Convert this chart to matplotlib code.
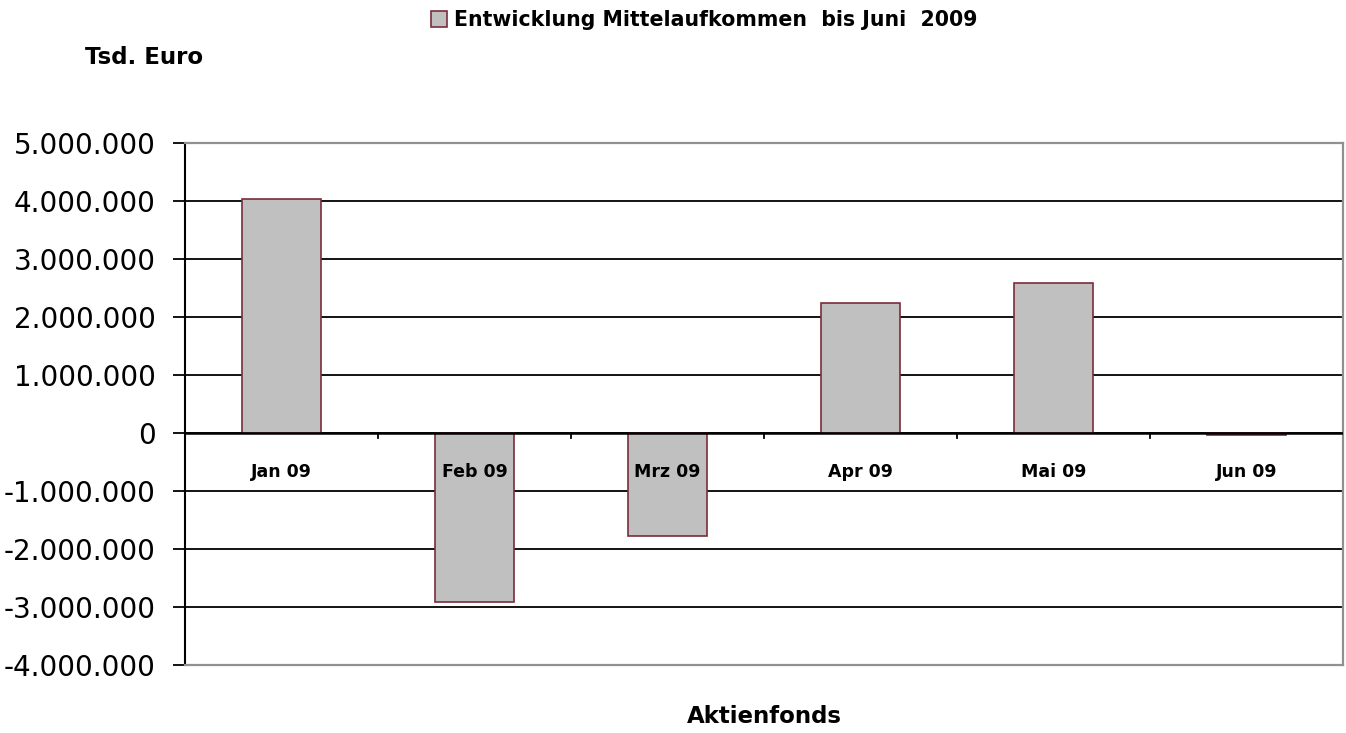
import numpy as np
import matplotlib.pyplot as plt
from matplotlib.patches import Patch
from matplotlib.ticker import FuncFormatter
from matplotlib.transforms import blended_transform_factory

monate = ["Jan 09", "Feb 09", "Mrz 09", "Apr 09", "Mai 09", "Jun 09"]
mittelaufkommen = [4040000, -2910000, -1780000, 2240000, 2590000, -40000]
y_ticks = [-4000000, -3000000, -2000000, -1000000, 0,
           1000000, 2000000, 3000000, 4000000, 5000000]

plt.rcParams['font.family'] = ['DejaVu Sans']

fig = plt.figure(figsize=(13.46, 7.33), dpi=100)
ax = fig.add_axes([0.1374, 0.0928, 0.8604, 0.7121])

x = np.arange(len(monate))
ax.bar(x, mittelaufkommen, width=0.41, color="#C0C0C0",
       edgecolor="#7B2C3B", linewidth=1.2, zorder=3)

ax.set_xlim(-0.5, len(monate) - 0.5)
ax.set_ylim(y_ticks[0], y_ticks[-1])
ax.set_yticks(y_ticks)
ax.yaxis.set_major_formatter(FuncFormatter(lambda v, p: f"{int(v):,}".replace(",", ".")))
ax.tick_params(axis="y", labelsize=20, length=9, width=1.3, direction="out", pad=12)

# gridlines
for t in y_ticks[1:-1]:
    ax.axhline(t, color="black", linewidth=1.3, zorder=1)
ax.axhline(0, color="black", linewidth=1.8, zorder=4)

# category separators on zero line
ax.set_xticks([])
trans = blended_transform_factory(ax.transData, ax.transAxes)
for b in np.arange(0.5, len(monate) - 0.5):
    ax.plot([b, b], [0, -90000], color="black", linewidth=1.3, zorder=4)
for i, m in enumerate(monate):
    ax.text(i, 0.3697, m, transform=trans, ha="center", va="center",
            fontsize=12.5, fontweight="bold", zorder=5)

for s in ["top", "right", "bottom"]:
    ax.spines[s].set_color("#909090")
    ax.spines[s].set_linewidth(1.6)
ax.spines["left"].set_color("black")
ax.spines["left"].set_linewidth(1.5)

fig.legend(handles=[Patch(facecolor="#C0C0C0", edgecolor="#7B2C3B", linewidth=1.2)],
           labels=["Entwicklung Mittelaufkommen  bis Juni  2009"],
           loc="center", bbox_to_anchor=(0.523, 0.973), frameon=False,
           prop={"weight": "bold", "size": 14.8}, handlelength=0.8, handleheight=0.8,
           handletextpad=0.3)

fig.text(0.107, 0.921, "Tsd. Euro", ha="center", va="center",
         fontsize=16.5, fontweight="bold")
fig.text(0.568, 0.022, "Aktienfonds", ha="center", va="center",
         fontsize=16.5, fontweight="bold")

fig.savefig("out.png", dpi=100)
